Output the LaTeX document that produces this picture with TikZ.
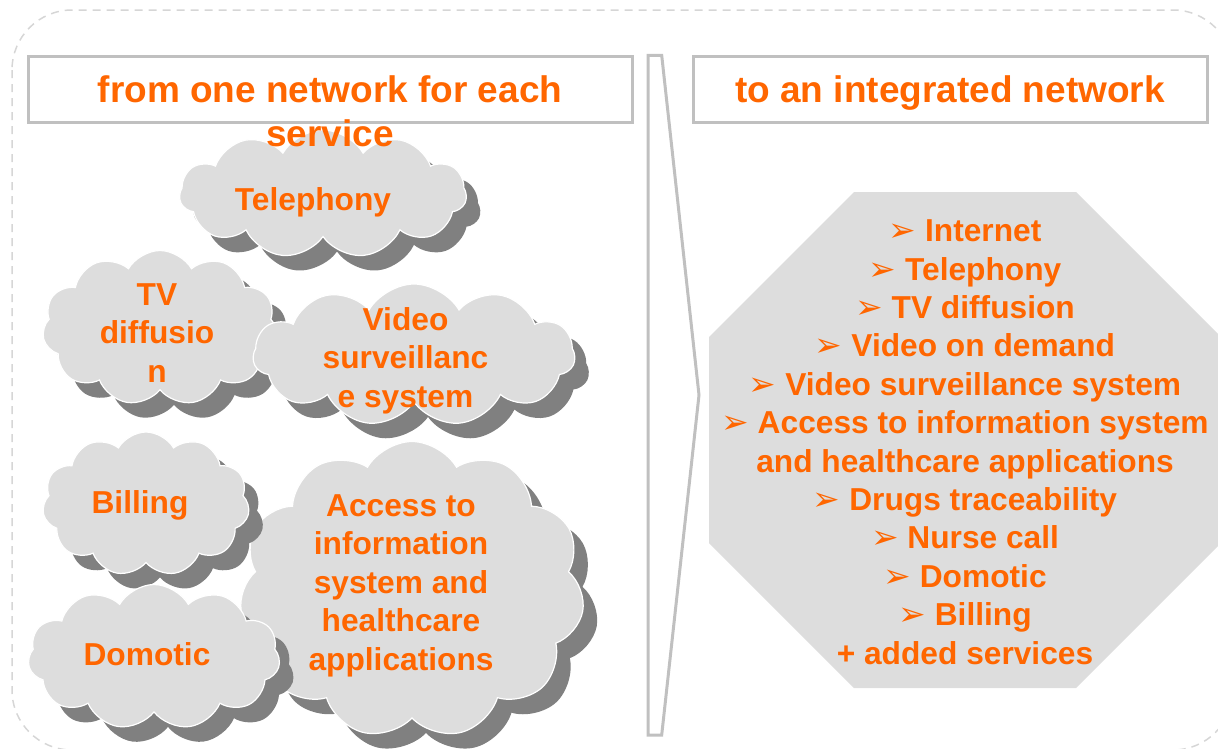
\documentclass[tikz,border=0pt]{standalone}
\usepackage{fontspec}
\setmainfont{Liberation Sans}
\newfontfamily\dejavu{DejaVu Sans}
\usetikzlibrary{shapes.symbols,shadows}
\definecolor{orng}{HTML}{FF6600}
\definecolor{cloudgray}{HTML}{DDDDDD}
\definecolor{shadgray}{HTML}{808080}
\definecolor{boxgray}{HTML}{C0C0C0}
\definecolor{dashgray}{HTML}{D6D6D6}
\newcommand{\bul}{{\dejavu\fontsize{33}{33}\selectfont ➢}}
\tikzset{
  cloudbox/.style={cloud, cloud puffs=11, cloud puff arc=120, cloud ignores aspect,
    fill=cloudgray, draw=white, line width=1.2pt, inner sep=0pt,
    drop shadow={shadow xshift=14pt, shadow yshift=-15pt, fill=shadgray, opacity=1}},
  ctext/.style={text=orng, font=\bfseries\fontsize{31.7}{38.4}\selectfont, align=center, anchor=base, inner sep=0pt},
  htext/.style={text=orng, font=\bfseries\fontsize{37}{44}\selectfont, align=center, anchor=base, inner sep=0pt},
  headbox/.style={draw=boxgray, line width=3pt, fill=white, inner sep=0pt},
  boxline/.style={draw=boxgray, line width=3pt, line join=miter}
}
\begin{document}
\begin{tikzpicture}[x=1pt,y=-1pt]
\useasboundingbox (0,0) rectangle (1218,748);
\clip (0,0) rectangle (1218,748);
% outer dashed frame
\draw[dashgray, line width=1.5pt, dash pattern=on 8pt off 6pt, rounded corners=60pt] (12,10) rectangle (1233,750);
% header boxes
\node[headbox, minimum width=604pt, minimum height=66pt] (lh) at (330.5,89) {};
\node[headbox, minimum width=514pt, minimum height=66pt] (rh) at (950,89) {};
% divider chevron
\draw[boxline] (648,55.3) -- (661.7,55.3) -- (699,395) -- (661.7,735) -- (648,735) -- cycle;
% octagon
\fill[cloudgray] (854,192) -- (1076,192) -- (1221,337) -- (1221,543) -- (1076,688) -- (854,688) -- (709,543) -- (709,337) -- cycle;
% clouds
\node[cloudbox, minimum width=287pt, minimum height=128pt] (ctel) at (323,194) {};
\node[cloudbox, minimum width=235pt, minimum height=155pt] (ctv) at (160,328) {};
\node[cloudbox, minimum width=322pt, minimum height=142pt] (cvid) at (414,355) {};
\node[cloudbox, minimum width=345pt, minimum height=297pt] (cacc) at (412,590) {};
\node[cloudbox, minimum width=207pt, minimum height=144pt] (cbil) at (146,504) {};
\node[cloudbox, minimum width=252pt, minimum height=145pt] (cdom) at (154,657) {};
% cloud texts (anchor base = baseline of the last line)
\node[ctext] (ttel) at (313,210) {Telephony};
\node[ctext] (ttv) at (157,382) {TV\\diffusio\\n};
\node[ctext] (tvid) at (405.5,407) {Video\\surveillanc\\e system};
\node[ctext] (tacc) at (401,670) {Access to\\information\\system and\\healthcare\\applications};
\node[ctext] (tbil) at (140,513) {Billing};
\node[ctext] (tdom) at (147,665) {Domotic};
% header texts
\node[htext] (lht) at (330,146) {from one network for each\\service};
\node[htext] (rht) at (950,102) {to an integrated network};
% octagon list
\node[ctext] (list) at (965,664) {\bul{} Internet\\\bul{} Telephony\\\bul{} TV diffusion\\\bul{} Video on demand\\\bul{} Video surveillance system\\\bul{} Access to information system\\and healthcare applications\\\bul{} Drugs traceability\\\bul{} Nurse call\\\bul{} Domotic\\\bul{} Billing\\+ added services};
\end{tikzpicture}
\end{document}
